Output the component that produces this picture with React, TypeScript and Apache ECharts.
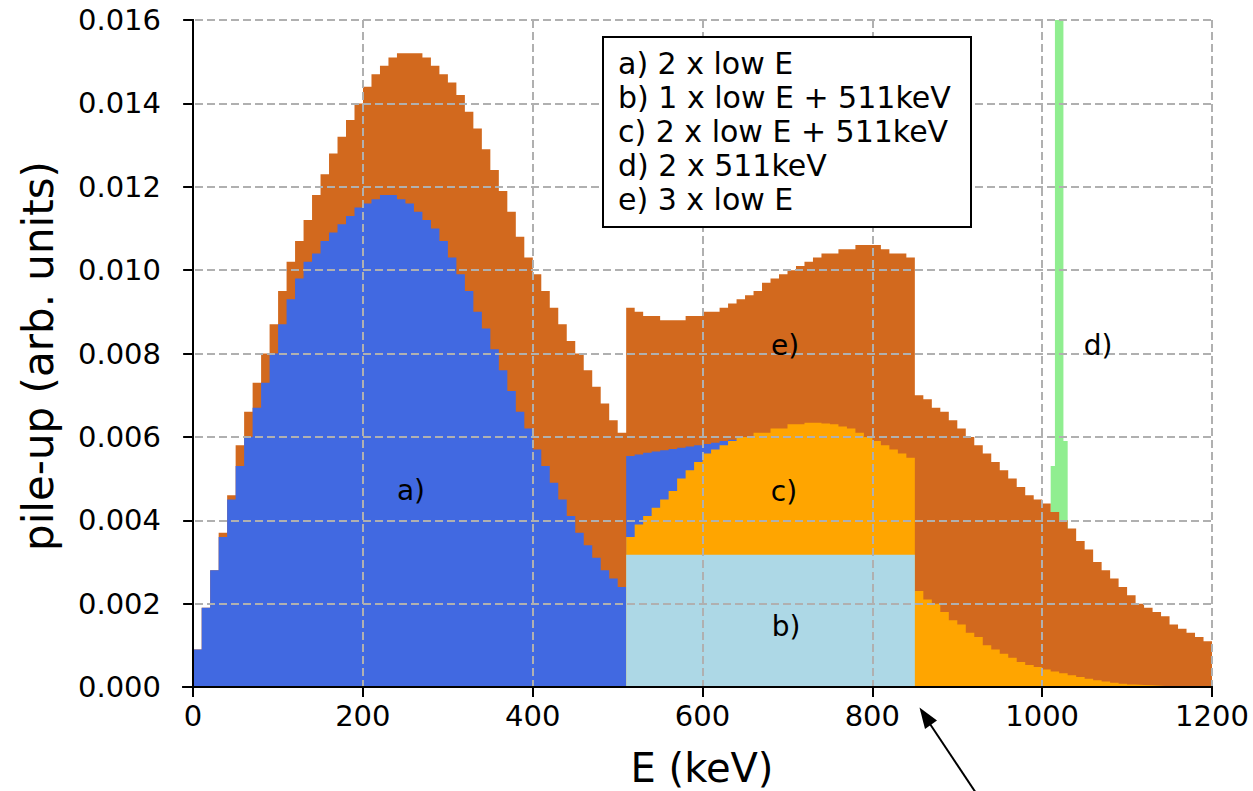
import React, { useEffect, useRef } from "react";
import * as echarts from "echarts";

// ---- data (bin tops) ----
const BIN_WIDTH = 10; // keV
const X_TICKS = [0, 200, 400, 600, 800, 1000, 1200];

// e) 3 x low E  (top envelope, chocolate) bins from 0 keV
const E_START = 0;
const E_VALUES = [
  0.0009, 0.0019, 0.0028, 0.0037, 0.0046, 0.0058, 0.0066, 0.0073, 0.008, 0.0087,
  0.0095, 0.0102, 0.0107, 0.0112, 0.0118, 0.0123, 0.0128, 0.0132, 0.0136, 0.014,
  0.0144, 0.0147, 0.0149, 0.0151, 0.0152, 0.0152, 0.0152, 0.0151, 0.0149, 0.0147,
  0.0145, 0.0142, 0.0138, 0.0134, 0.0129, 0.0124, 0.0119, 0.0114, 0.0108, 0.0103,
  0.0099, 0.0095, 0.0091, 0.0087, 0.0083, 0.008, 0.0076, 0.0072, 0.0068, 0.0064,
  0.0061, 0.0091, 0.009, 0.0089, 0.0089, 0.0088, 0.0088, 0.0088, 0.0089, 0.0089,
  0.009, 0.009, 0.0091, 0.0092, 0.0093, 0.0094, 0.0095, 0.0097, 0.0098, 0.0099,
  0.01, 0.0101, 0.0102, 0.0103, 0.0104, 0.0104, 0.0105, 0.0105, 0.0106, 0.0106,
  0.0106, 0.0105, 0.0104, 0.0104, 0.0103, 0.007, 0.0069, 0.0067, 0.0066, 0.0064,
  0.0062, 0.006, 0.0058, 0.0056, 0.0054, 0.0052, 0.005, 0.0048, 0.0046, 0.0045,
  0.0044, 0.0042, 0.004, 0.0038, 0.0035, 0.0033, 0.003, 0.0028, 0.0026, 0.0024,
  0.0022, 0.002, 0.0019, 0.0018, 0.0017, 0.0015, 0.0014, 0.0013, 0.0012, 0.0011,
];

// a) 2 x low E (royal blue) bins from 0 keV
const A_START = 0;
const A_VALUES = [
  0.0009, 0.0019, 0.0028, 0.0036, 0.0045, 0.0053, 0.006, 0.0067, 0.0073, 0.008,
  0.0087, 0.0093, 0.0098, 0.0102, 0.0104, 0.0107, 0.0109, 0.0111, 0.0113, 0.0115,
  0.0116, 0.0117, 0.0118, 0.0118, 0.0117, 0.0116, 0.0114, 0.0112, 0.011, 0.0107,
  0.0103, 0.0099, 0.0095, 0.009, 0.0086, 0.0081, 0.0076, 0.0071, 0.0066, 0.0062,
  0.0057, 0.0053, 0.0049, 0.0045, 0.0041, 0.0037, 0.0034, 0.0031, 0.0028, 0.0026,
  0.0024,
  0.00554, 0.00558, 0.00562, 0.00565, 0.00568, 0.00571, 0.00574, 0.00577, 0.0058,
  0.00583, 0.00586, 0.0059, 0.00593, 0.00596,
];

// c) 2 x low E + 511keV (orange) bins from 510 keV
const C_START = 510;
const C_VALUES = [
  0.0036, 0.0039, 0.0041, 0.0043, 0.0045, 0.0047, 0.005, 0.0052, 0.0054,
  0.0056, 0.0057, 0.0058, 0.0059, 0.006, 0.006, 0.0061, 0.0061, 0.0062, 0.0062,
  0.0063, 0.0063, 0.00634, 0.00634, 0.00632, 0.0063, 0.00625, 0.0062, 0.0061, 0.006,
  0.0059, 0.0058, 0.0057, 0.0056, 0.0055,
  0.0023, 0.0021, 0.002, 0.0018, 0.0016,
  0.0015, 0.0013, 0.0012, 0.001, 0.0009, 0.0008, 0.0007, 0.0006, 0.00053, 0.00048,
  0.00042, 0.00037, 0.00033, 0.00028, 0.00024, 0.0002, 0.00016, 0.00013, 0.0001, 0.00008,
  0.00006, 0.00005, 0.00004, 0.00003, 0.00002, 0.00002, 0.00001, 0.00001, 0.00001, 0.00001,
];

// b) 1 x low E + 511keV (light blue) bins from 510 keV
const B_START = 510;
const B_VALUES = [
  0.00317, 0.00317, 0.00317, 0.00317, 0.00317, 0.00317, 0.00317, 0.00317, 0.00317,
  0.00317, 0.00317, 0.00317, 0.00317, 0.00317, 0.00317, 0.00317, 0.00317, 0.00317,
  0.00317, 0.00317, 0.00317, 0.00317, 0.00317, 0.00317, 0.00317, 0.00317, 0.00317,
  0.00317, 0.00317, 0.00317, 0.00317, 0.00317, 0.00317, 0.00317,
];

// d) 2 x 511keV (light green), finer bins
const D_START = 1010;
const D_BIN_WIDTH = 5;
const D_VALUES = [0.0053, 0.0175, 0.0175, 0.0059];

const LEGEND_LINES = [
  "a) 2 x low E",
  "b) 1 x low E + 511keV",
  "c) 2 x low E + 511keV",
  "d) 2 x 511keV",
  "e) 3 x low E",
];

const FONT = "DejaVu Sans";

function histData(start: number, width: number, vals: number[]) {
  const pts: number[][] = vals.map((v, i) => [start + i * width, v]);
  pts.push([start + vals.length * width, vals[vals.length - 1]]);
  return pts;
}

function histSeries(name: string, color: string, data: number[][]) {
  return {
    name,
    type: "line",
    xAxisIndex: 0,
    yAxisIndex: 0,
    step: "end",
    symbol: "none",
    showSymbol: false,
    clip: true,
    lineStyle: { width: 0, color },
    itemStyle: { color },
    areaStyle: { color, opacity: 1 },
    data,
    z: 2,
  };
}

export default function App() {
  const ref = useRef<HTMLDivElement>(null);

  useEffect(() => {
    if (!ref.current) return;
    const chart = echarts.init(ref.current, null, { renderer: "svg" });
    const gridPos = { top: 20, bottom: 104, right: 41 };
    const dashed = { show: true, lineStyle: { color: "#b0b0b0", type: [8, 4], width: 2 } };
    const spine = { show: true, lineStyle: { color: "#000", width: 2 } };

    const option: any = {
      animation: false,
      backgroundColor: "#fff",
      grid: [
        { left: 183, ...gridPos, outerBoundsMode: "none" },
        { left: 193, ...gridPos, outerBoundsMode: "none" },
      ],
      xAxis: [
        {
          gridIndex: 0, type: "value", min: -12, max: 1200, position: "bottom",
          axisLine: spine, axisTick: { show: false }, axisLabel: { show: false },
          splitLine: { show: false }, z: 10,
        },
        {
          gridIndex: 0, type: "value", min: -12, max: 1200, position: "top",
          axisLine: spine, axisTick: { show: false }, axisLabel: { show: false },
          splitLine: { show: false }, z: 10,
        },
        {
          gridIndex: 1, type: "value", min: X_TICKS[0], max: X_TICKS[X_TICKS.length - 1],
          interval: 200, position: "bottom",
          axisLine: { show: false },
          axisTick: { show: true, inside: false, length: 10, lineStyle: { color: "#000", width: 2 } },
          axisLabel: {
            show: true, margin: 14, color: "#000", fontSize: 29, fontFamily: FONT,
            formatter: (v: number) => String(v),
          },
          splitLine: dashed, z: 5,
        },
      ],
      yAxis: [
        {
          gridIndex: 0, type: "value", min: 0, max: 0.016, interval: 0.002, position: "left",
          axisLine: spine,
          axisTick: { show: true, inside: false, length: 10, lineStyle: { color: "#000", width: 2 } },
          axisLabel: {
            show: true, margin: 22, color: "#000", fontSize: 29, fontFamily: FONT,
            formatter: (v: number) => v.toFixed(3),
          },
          splitLine: dashed, z: 5,
        },
        {
          gridIndex: 0, type: "value", min: 0, max: 0.016, position: "right",
          axisLine: spine, axisTick: { show: false }, axisLabel: { show: false },
          splitLine: { show: false }, z: 10,
        },
        {
          gridIndex: 1, type: "value", min: 0, max: 0.016, show: false,
          splitLine: { show: false },
        },
      ],
      series: [
        histSeries("d) 2 x 511keV", "#90EE90", histData(D_START, D_BIN_WIDTH, D_VALUES)),
        histSeries("e) 3 x low E", "#D2691E", histData(E_START, BIN_WIDTH, E_VALUES)),
        histSeries("a) 2 x low E", "#4169E1", histData(A_START, BIN_WIDTH, A_VALUES)),
        histSeries("c) 2 x low E + 511keV", "#FFA500", histData(C_START, BIN_WIDTH, C_VALUES)),
        histSeries("b) 1 x low E + 511keV", "#ADD8E6", histData(B_START, BIN_WIDTH, B_VALUES)),
      ],
      graphic: [
        // axis titles
        {
          type: "text", x: 702, y: 768, z: 100,
          style: { text: "E (keV)", fontSize: 40, fontFamily: FONT, fill: "#000", align: "center", verticalAlign: "middle" },
        },
        {
          type: "text", x: 38, y: 356, rotation: Math.PI / 2, z: 100,
          style: { text: "pile-up (arb. units)", fontSize: 42, fontFamily: FONT, fill: "#000", align: "center", verticalAlign: "middle" },
        },
        // in-plot labels
        ...[
          ["a)", 411, 490],
          ["b)", 786, 626],
          ["c)", 784, 491],
          ["e)", 785, 345],
          ["d)", 1098, 345],
        ].map(([t, x, y]) => ({
          type: "text", x, y, z: 100,
          style: { text: t, fontSize: 28, fontFamily: FONT, fill: "#000", align: "center", verticalAlign: "middle" },
        })),
        // legend box
        {
          type: "rect", z: 100,
          shape: { x: 603, y: 37, width: 368, height: 190 },
          style: { fill: "#fff", stroke: "#000", lineWidth: 2 },
        },
        ...LEGEND_LINES.map((t, i) => ({
          type: "text", x: 618, y: 63 + i * 34.2, z: 101,
          style: { text: t, fontSize: 30, fontFamily: FONT, fill: "#000", align: "left", verticalAlign: "middle" },
        })),
        // arrow
        {
          type: "line", z: 100,
          shape: { x1: 978, y1: 796, x2: 926, y2: 718 },
          style: { stroke: "#000", lineWidth: 2 },
        },
        {
          type: "polygon", z: 100,
          shape: { points: [[919.5, 707.5], [925, 729], [937, 720.5]] },
          style: { fill: "#000" },
        },
      ],
    };
    chart.setOption(option);
    return () => chart.dispose();
  }, []);

  return (
    <div
      ref={ref}
      style={{ position: "absolute", left: 0, top: 0, width: 1253, height: 791 }}
    />
  );
}
